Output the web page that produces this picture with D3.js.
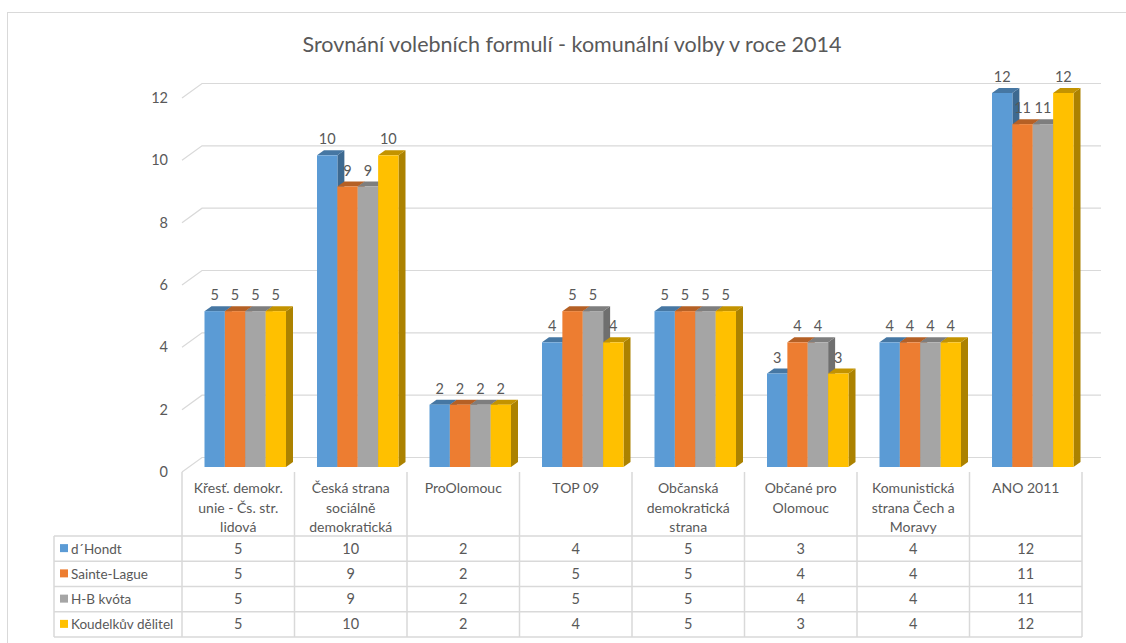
<!DOCTYPE html>
<html>
<head>
<meta charset="utf-8">
<script src="https://cdn.jsdelivr.net/npm/d3@7"></script>
<style>
  body { margin: 0; background: #fff; }
  svg text { font-family: Lato, "Open Sans", sans-serif; fill: #595959; }
</style>
</head>
<body>
<svg id="chart" width="1126" height="643"></svg>
<script>
// ---- data ----
const title = "Srovnání volebních formulí - komunální volby v roce 2014";
const categories = [
  "Křesť. demokr.\nunie - Čs. str.\nlidová",
  "Česká strana\nsociálně\ndemokratická",
  "ProOlomouc",
  "TOP 09",
  "Občanská\ndemokratická\nstrana",
  "Občané pro\nOlomouc",
  "Komunistická\nstrana Čech a\nMoravy",
  "ANO 2011"
];
const seriesNames = ["d´Hondt", "Sainte-Lague", "H-B kvóta", "Koudelkův dělitel"];
const dHondt      = [5, 10, 2, 4, 5, 3, 4, 12];
const sainteLague = [5, 9, 2, 5, 5, 4, 4, 11];
const hbKvota     = [5, 9, 2, 5, 5, 4, 4, 11];
const koudelka    = [5, 10, 2, 4, 5, 3, 4, 12];
const yTicks = [0, 2, 4, 6, 8, 10, 12];
const colors = ["#5b9bd5", "#ed7d31", "#a5a5a5", "#ffc000"];

const seriesValues = [dHondt, sainteLague, hbKvota, koudelka];

// ---- layout ----
const svg = d3.select("#chart");
const left = 182, right = 1082;
const wallDX = 20, wallDY = -14.5;     // back wall offset
const barDX = 7, barDY = -5;           // bar plane offset from front & bar depth
const gridRight = 1101;

const y = d3.scaleLinear().domain([0, 12]).range([472, 98]);
const x = d3.scaleBand().domain(categories).range([left, right]).paddingInner(0).paddingOuter(0);
const clusterW = 81.5;
const xs = d3.scaleBand().domain(seriesNames).range([0, clusterW]);
const clusterOff = (x.bandwidth() - clusterW) / 2 + barDX;

// outer border
svg.append("rect").attr("x", 7.5).attr("y", 12.5).attr("width", 1140).attr("height", 660)
  .attr("fill", "none").attr("stroke", "#d9d9d9").attr("stroke-width", 1);

// title
svg.append("text").attr("x", 572).attr("y", 52).attr("text-anchor", "middle")
  .style("font-size", "21.5px").text(title);

// gridlines (front diagonal + back wall)
const grid = svg.append("g");
yTicks.forEach(t => {
  const yf = y(t), yb = y(t) + wallDY;
  grid.append("path")
    .attr("d", `M${left},${yf}L${left + wallDX},${yb}H${gridRight}`)
    .attr("fill", "none").attr("stroke", "#d9d9d9").attr("stroke-width", 1.2);
  svg.append("text").attr("x", 168).attr("y", yf + 5).attr("text-anchor", "end")
    .style("font-size", "14.5px").text(t);
});

// bars
const gBars = svg.append("g");
const gLabels = svg.append("g");
categories.forEach((c, ci) => {
  seriesNames.forEach((s, si) => {
    const v = seriesValues[si][ci];
    const col = d3.color(colors[si]);
    const x0 = x(c) + clusterOff + xs(s);
    const x1 = x0 + xs.bandwidth();
    const yT = y(v) + barDY;
    const yB = y(0) + barDY;
    const g = gBars.append("g");
    // side face
    g.append("path")
      .attr("d", `M${x1},${yT}L${x1 + barDX},${yT + barDY}L${x1 + barDX},${yB + barDY}L${x1},${yB}Z`)
      .attr("fill", col.darker(1.1));
    // top face
    g.append("path")
      .attr("d", `M${x0},${yT}L${x0 + barDX},${yT + barDY}L${x1 + barDX},${yT + barDY}L${x1},${yT}Z`)
      .attr("fill", col.darker(0.75));
    // front face
    g.append("rect").attr("x", x0).attr("y", yT).attr("width", x1 - x0).attr("height", yB - yT)
      .attr("fill", col);
    // value label
    gLabels.append("text").attr("x", (x0 + x1) / 2).attr("y", yT - 11)
      .attr("text-anchor", "middle").style("font-size", "14.5px").text(v);
  });
});

// data table
const tableTop = 472, rowTop = 536, rowH = 25.25, legendLeft = 54;
const tbl = svg.append("g").attr("stroke", "#d9d9d9").attr("stroke-width", 1.5).attr("fill", "none");
const tableBottom = rowTop + rowH * seriesNames.length;
// horizontal lines
for (let r = 0; r <= seriesNames.length; r++) {
  const yy = rowTop + r * rowH;
  tbl.append("line").attr("x1", legendLeft).attr("x2", right).attr("y1", yy).attr("y2", yy);
}
// vertical lines
tbl.append("line").attr("x1", legendLeft).attr("x2", legendLeft).attr("y1", rowTop).attr("y2", tableBottom);
categories.forEach(c => {
  tbl.append("line").attr("x1", x(c)).attr("x2", x(c)).attr("y1", tableTop).attr("y2", tableBottom);
});
tbl.append("line").attr("x1", right).attr("x2", right).attr("y1", tableTop).attr("y2", tableBottom);

// header (category names)
categories.forEach(c => {
  const lines = c.split("\n");
  const t = svg.append("text").attr("text-anchor", "middle").style("font-size", "14px");
  lines.forEach((ln, li) => {
    t.append("tspan").attr("x", x(c) + x.bandwidth() / 2).attr("y", 493 + li * 19.5).text(ln);
  });
});

// rows
seriesNames.forEach((s, si) => {
  const cy = rowTop + si * rowH + rowH / 2;
  svg.append("rect").attr("x", 60).attr("y", cy - 4.5).attr("width", 8).attr("height", 8).attr("fill", colors[si]);
  svg.append("text").attr("x", 71).attr("y", cy + 5).style("font-size", "13.5px").text(s);
  categories.forEach((c, ci) => {
    svg.append("text").attr("x", x(c) + x.bandwidth() / 2).attr("y", cy + 5)
      .attr("text-anchor", "middle").style("font-size", "14.5px").text(seriesValues[si][ci]);
  });
});
</script>
</body>
</html>
